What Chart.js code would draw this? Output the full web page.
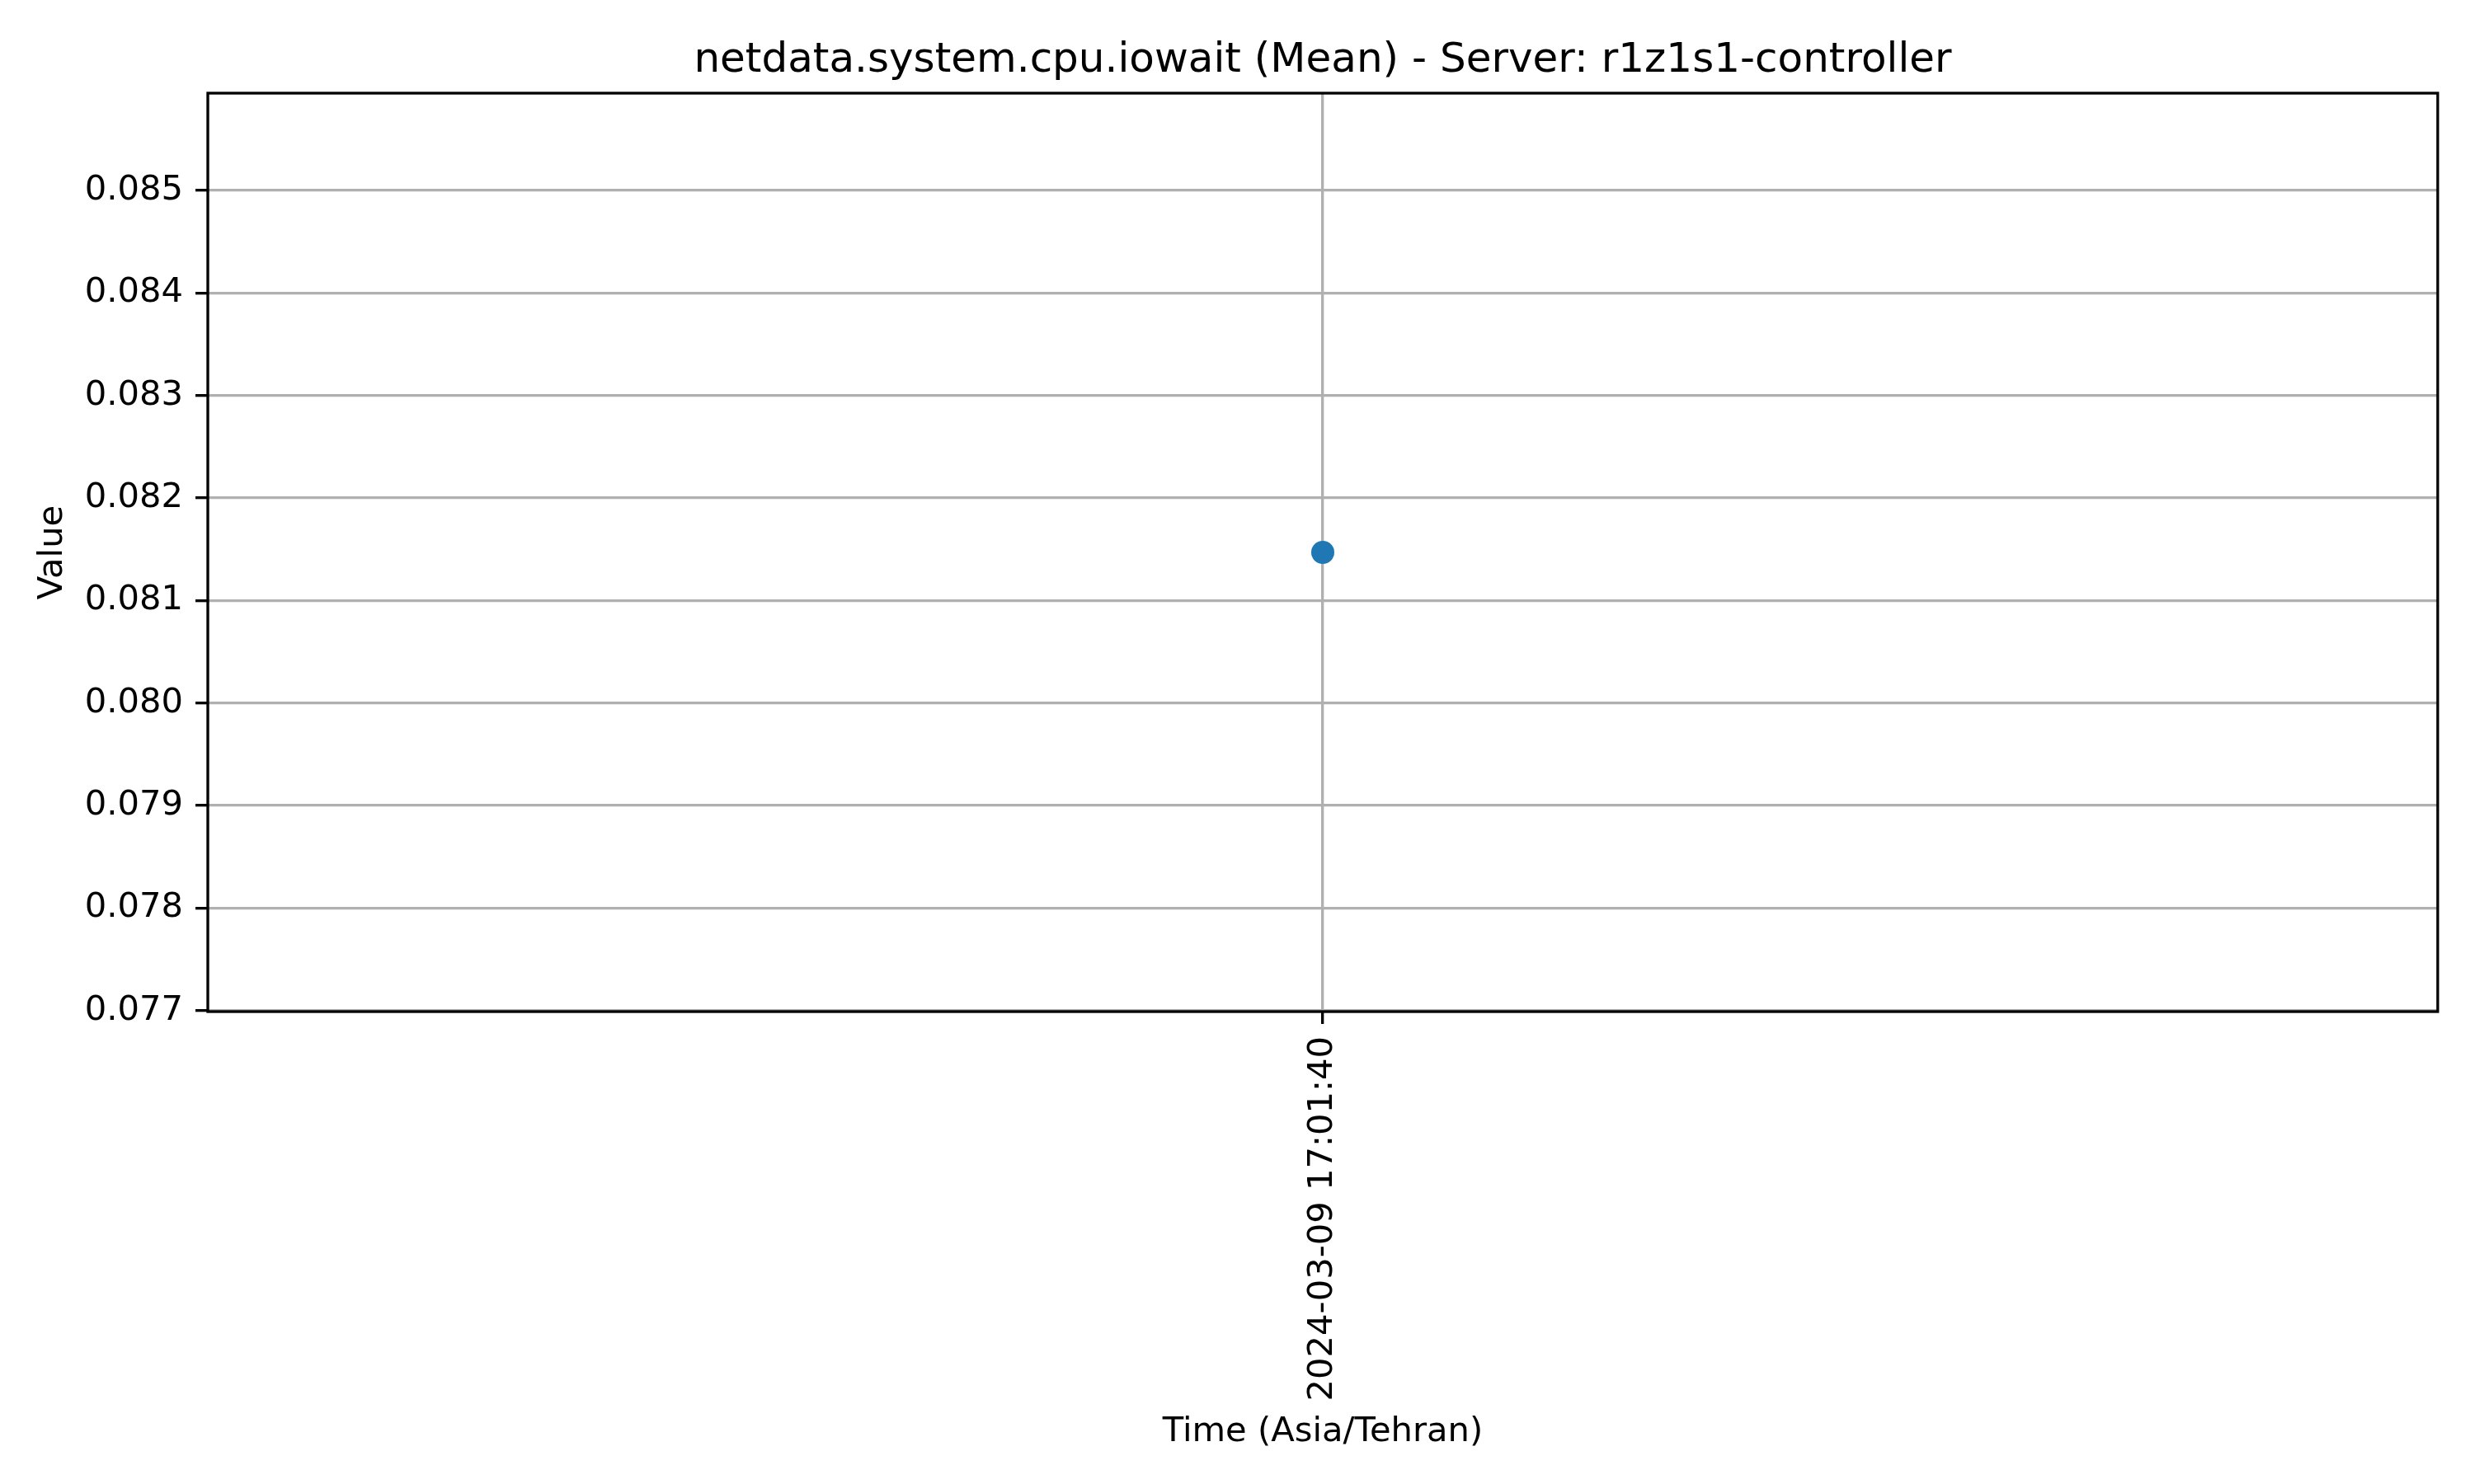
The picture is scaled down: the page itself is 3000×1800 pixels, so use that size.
<!DOCTYPE html>
<html>
<head>
<meta charset="utf-8">
<script src="https://cdn.jsdelivr.net/npm/chart.js@4.4.1/dist/chart.umd.min.js"></script>
<style>
  html, body { margin: 0; padding: 0; background: #ffffff; }
  #wrap { width: 3000px; height: 1800px; }
</style>
</head>
<body>
<div id="wrap"><canvas id="c" width="3000" height="1800"></canvas></div>
<script>
// ---- data ----
const timeLabels = ["2024-03-09 17:01:40"];
const meanValues = [0.08147];
const yTickValues = [0.077, 0.078, 0.079, 0.080, 0.081, 0.082, 0.083, 0.084, 0.085];
const yAxisMin = 0.07699;
const yAxisMax = 0.08595;
const chartTitle = "netdata.system.cpu.iowait (Mean) - Server: r1z1s1-controller";
const xAxisTitle = "Time (Asia/Tehran)";
const yAxisTitle = "Value";

const FONT = "'DejaVu Sans', sans-serif";
const LW = 3.33;

const frame = {
  id: 'frame',
  beforeDatasetsDraw(chart) {
    const a = chart.chartArea;
    const ctx = chart.ctx;
    ctx.save();
    ctx.strokeStyle = '#000000';
    ctx.lineWidth = LW;
    ctx.strokeRect(a.left, a.top, a.right - a.left, a.bottom - a.top);
    ctx.restore();
  }
};

new Chart(document.getElementById('c'), {
  type: 'line',
  data: {
    labels: timeLabels,
    datasets: [{
      data: meanValues,
      showLine: false,
      pointRadius: 14,
      pointHoverRadius: 14,
      pointBackgroundColor: '#1f77b4',
      pointBorderColor: '#1f77b4',
      pointBorderWidth: 0
    }]
  },
  options: {
    responsive: false,
    animation: false,
    events: [],
    layout: { padding: { left: 0, right: 44, top: 0, bottom: 0 } },
    plugins: {
      legend: { display: false },
      tooltip: { enabled: false },
      title: {
        display: true,
        text: chartTitle,
        fullSize: false,
        color: '#000000',
        font: { family: FONT, size: 50, weight: 'normal', lineHeight: 1.2 },
        padding: { top: 44, bottom: 9 }
      }
    },
    scales: {
      x: {
        type: 'category',
        offset: true,
        afterFit(s) { s.height = 573; },
        grid: {
          display: true,
          offset: false,
          color: '#b0b0b0',
          lineWidth: LW,
          drawTicks: true,
          tickLength: 15,
          tickColor: '#000000',
          tickWidth: LW
        },
        border: { display: false },
        ticks: {
          autoSkip: false,
          minRotation: 90,
          maxRotation: 90,
          padding: 15,
          color: '#000000',
          font: { family: FONT, size: 41.67 }
        },
        title: {
          display: true,
          text: xAxisTitle,
          color: '#000000',
          font: { family: FONT, size: 41.67, lineHeight: 1.2 },
          padding: { top: 0, bottom: 38 }
        }
      },
      y: {
        type: 'linear',
        min: yAxisMin,
        max: yAxisMax,
        afterFit(s) { s.width = 252; },
        afterBuildTicks(s) { s.ticks = yTickValues.map(v => ({ value: v })); },
        grid: {
          display: true,
          color: '#b0b0b0',
          lineWidth: LW,
          drawTicks: true,
          tickLength: 15,
          tickColor: '#000000',
          tickWidth: LW
        },
        border: { display: false },
        ticks: {
          padding: 15,
          color: '#000000',
          font: { family: FONT, size: 41.67 },
          callback: (v) => Number(v).toFixed(3)
        },
        title: {
          display: true,
          text: yAxisTitle,
          color: '#000000',
          font: { family: FONT, size: 41.67, lineHeight: 1.2 },
          padding: { top: 39, bottom: 0 }
        }
      }
    }
  },
  plugins: [frame]
});
</script>
</body>
</html>
